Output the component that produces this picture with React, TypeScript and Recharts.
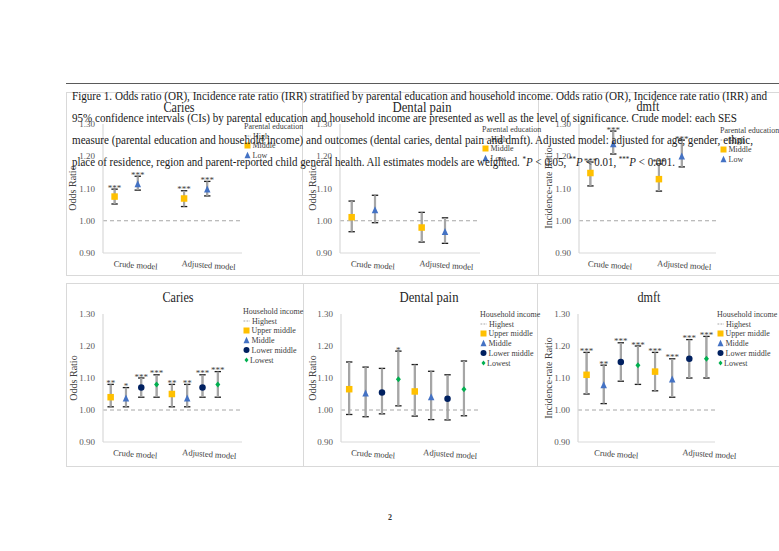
import React from "react";
import { ScatterChart, Scatter, XAxis, YAxis, ErrorBar, ReferenceLine, Legend } from "recharts";

const SERIF = "'Liberation Serif', 'Times New Roman', serif";

const models = ["Crude model", "Adjusted model"];
const educationGroups = ["Middle", "Low"];
const incomeGroups = ["Upper middle", "Middle", "Lower middle", "Lowest"];
const yTicks = [0.9, 1.0, 1.1, 1.2, 1.3];

// one row per group, [crude, adjusted]
const cariesEduEst = [[1.075, 1.069], [1.114, 1.098]];
const cariesEduLow = [[1.052, 1.044], [1.095, 1.077]];
const cariesEduHigh = [[1.098, 1.093], [1.138, 1.122]];
const cariesEduSig = [["***", "***"], ["***", "***"]];

const painEduEst = [[1.011, 0.979], [1.033, 0.966]];
const painEduLow = [[0.966, 0.934], [0.994, 0.93]];
const painEduHigh = [[1.061, 1.026], [1.079, 1.009]];
const painEduSig = [["", ""], ["", ""]];

const dmftEduEst = [[1.148, 1.129], [1.238, 1.2]];
const dmftEduLow = [[1.108, 1.092], [1.207, 1.167]];
const dmftEduHigh = [[1.182, 1.176], [1.278, 1.25]];
const dmftEduSig = [["***", "***"], ["***", "***"]];

const cariesIncEst = [[1.04, 1.05], [1.037, 1.037], [1.07, 1.07], [1.08, 1.08]];
const cariesIncLow = [[1.01, 1.01], [1.01, 1.01], [1.04, 1.04], [1.04, 1.04]];
const cariesIncHigh = [[1.08, 1.08], [1.07, 1.08], [1.1, 1.11], [1.11, 1.12]];
const cariesIncSig = [["**", "**"], ["*", "**"], ["***", "***"], ["***", "***"]];

const painIncEst = [[1.065, 1.058], [1.052, 1.041], [1.055, 1.035], [1.096, 1.065]];
const painIncLow = [[0.986, 0.981], [0.979, 0.97], [0.988, 0.969], [1.013, 0.982]];
const painIncHigh = [[1.15, 1.142], [1.134, 1.121], [1.13, 1.11], [1.184, 1.153]];
const painIncSig = [["", ""], ["", ""], ["", ""], ["*", ""]];

const dmftIncEst = [[1.11, 1.12], [1.078, 1.096], [1.15, 1.16], [1.14, 1.16]];
const dmftIncLow = [[1.05, 1.06], [1.02, 1.04], [1.09, 1.1], [1.08, 1.1]];
const dmftIncHigh = [[1.18, 1.18], [1.14, 1.16], [1.21, 1.22], [1.2, 1.23]];
const dmftIncSig = [["***", "***"], ["**", "***"], ["***", "***"], ["***", "***"]];

const markerKinds = ["square", "triangle", "circle", "diamond"];
const markerColors = ["#FFC000", "#4472C4", "#002060", "#00B050"];

const eduSlot = (m: number, g: number) => m * 6 + 1 + g * 2;
const incSlot = (m: number, g: number) => m * 4 + g + 0.5;

const panels = [
  { title: "Caries", yLabel: "Odds Ratio", groups: educationGroups, legendTitle: "Parental education", refName: "High",
    est: cariesEduEst, low: cariesEduLow, high: cariesEduHigh, sig: cariesEduSig, slot: eduSlot,
    l: 103, r: 242, t: 123.5, b: 252.5, xMax: 12, ticks: [2.8, 9.1],
    titleX: 179, titleY: 112, titleW: 31, yLabelX: 72, legX: 244, legY: 129 },
  { title: "Dental pain", yLabel: "Odds Ratio", groups: educationGroups, legendTitle: "Parental education", refName: "High",
    est: painEduEst, low: painEduLow, high: painEduHigh, sig: painEduSig, slot: eduSlot,
    l: 340, r: 480, t: 123.5, b: 252.5, xMax: 12, ticks: [2.8, 9.1],
    titleX: 422, titleY: 112, titleW: 59, yLabelX: 312, legX: 482, legY: 132 },
  { title: "dmft", yLabel: "Incidence-rate Ratio", groups: educationGroups, legendTitle: "Parental education", refName: "High",
    est: dmftEduEst, low: dmftEduLow, high: dmftEduHigh, sig: dmftEduSig, slot: eduSlot,
    l: 579, r: 716, t: 123.5, b: 252.5, xMax: 12, ticks: [2.7, 9.2],
    titleX: 648, titleY: 111, titleW: 23, yLabelX: 548, legX: 720, legY: 133 },
  { title: "Caries", yLabel: "Odds Ratio", groups: incomeGroups, legendTitle: "Household income", refName: "Highest",
    est: cariesIncEst, low: cariesIncLow, high: cariesIncHigh, sig: cariesIncSig, slot: incSlot,
    l: 103, r: 242, t: 314, b: 442, xMax: 9.08, ticks: [2.09, 6.93],
    titleX: 178, titleY: 302, titleW: 31, yLabelX: 73, legX: 243, legY: 314 },
  { title: "Dental pain", yLabel: "Odds Ratio", groups: incomeGroups, legendTitle: "Household income", refName: "Highest",
    est: painIncEst, low: painIncLow, high: painIncHigh, sig: painIncSig, slot: incSlot,
    l: 341, r: 480, t: 314, b: 442, xMax: 8.48, ticks: [1.95, 6.65],
    titleX: 429, titleY: 302, titleW: 59, yLabelX: 312, legX: 480, legY: 317 },
  { title: "dmft", yLabel: "Incidence-rate Ratio", groups: incomeGroups, legendTitle: "Household income", refName: "Highest",
    est: dmftIncEst, low: dmftIncLow, high: dmftIncHigh, sig: dmftIncSig, slot: incSlot,
    l: 578, r: 715, t: 314, b: 442, xMax: 8.0, ticks: [2.22, 7.66],
    titleX: 649, titleY: 302, titleW: 23, yLabelX: 548, legX: 717, legY: 317 },
];

function Marker({ kind, cx, cy, color, s = 6.5 }: any) {
  const h = s / 2;
  if (kind === "square") return <rect x={cx - h} y={cy - h} width={s} height={s} fill={color} />;
  if (kind === "triangle")
    return <polygon points={`${cx},${cy - h - 0.5} ${cx + h},${cy + h} ${cx - h},${cy + h}`} fill={color} />;
  if (kind === "circle") return <circle cx={cx} cy={cy} r={h} fill={color} />;
  return <polygon points={`${cx},${cy - h} ${cx + h - 0.5},${cy} ${cx},${cy + h} ${cx - h + 0.5},${cy}`} fill={color} />;
}

function LegendBox({ title, refName, groups }: any) {
  const first = 9.5;
  const step = 9.8;
  return (
    <svg width={70} height={first + step * (groups.length + 1) + 4} style={{ overflow: "visible", display: "block" }}>
      <text x={0} y={7} fontSize={8} fontFamily={SERIF} fill="#404040">{title}</text>
      <line x1={0.5} x2={7} y1={7 + first - 2.5} y2={7 + first - 2.5} stroke="#a6a6a6" strokeDasharray="1.8 1.2" />
      <text x={9} y={7 + first} fontSize={8} fontFamily={SERIF} fill="#404040">{refName}</text>
      {groups.map((g: string, i: number) => {
        const y = 7 + first + step * (i + 1);
        return (
          <g key={g}>
            <Marker kind={markerKinds[i]} cx={3.5} cy={y - 2.8} color={markerColors[i]} s={i === 3 ? 5 : 6} />
            <text x={i === 3 ? 7 : 8.5} y={y} fontSize={8} fontFamily={SERIF} fill="#404040">{g}</text>
          </g>
        );
      })}
    </svg>
  );
}

const ModelTick = (props: any) => {
  const { x, y, index } = props;
  const ty = y + 15;
  return (
    <text x={x} y={ty} textAnchor="middle" fontSize={8.5} fontFamily={SERIF} fill="#404040"
      transform={`rotate(4 ${x} ${ty})`}>
      {models[index]}
    </text>
  );
};

function Panel({ cfg }: any) {
  const padL = 40, padT = 14, padB = 24, padR = 40;
  const W = cfg.r - cfg.l;
  const H = cfg.b - cfg.t;
  const left = cfg.l - padL;
  const top = cfg.t - padT;

  const series = cfg.groups.map((g: string, gi: number) =>
    models.map((_, m) => ({
      x: cfg.slot(m, gi),
      y: cfg.est[gi][m],
      err: [cfg.est[gi][m] - cfg.low[gi][m], cfg.high[gi][m] - cfg.est[gi][m]],
    }))
  );
  const stars: any[] = [];
  cfg.groups.forEach((_: string, gi: number) =>
    models.forEach((__, m) => {
      if (cfg.sig[gi][m]) stars.push({ x: cfg.slot(m, gi), y: cfg.high[gi][m], sig: cfg.sig[gi][m] });
    })
  );

  return (
    <div style={{ position: "absolute", left, top }}>
      <ScatterChart width={padL + W + padR} height={padT + H + padB}
        margin={{ top: padT, right: padR, left: 0, bottom: 0 }}>
        <XAxis type="number" dataKey="x" domain={[0, cfg.xMax]} ticks={cfg.ticks} interval={0}
          allowDataOverflow height={padB} tickLine={false} tickSize={0} tickMargin={0}
          axisLine={{ stroke: "#d9d9d9", strokeWidth: 1.2 }} tick={<ModelTick />} />
        <YAxis type="number" dataKey="y" domain={[0.9, 1.3]} ticks={yTicks} interval={0}
          allowDataOverflow width={padL} tickLine={false}
          axisLine={{ stroke: "#d9d9d9", strokeWidth: 1.2 }}
          tickFormatter={(v: number) => v.toFixed(2)}
          tick={{ fontSize: 9, fill: "#595959", fontFamily: SERIF }} />
        <ReferenceLine y={1} stroke="#a6a6a6" strokeDasharray="4 3" strokeWidth={1} />
        {series.map((data: any[], gi: number) => (
          <Scatter key={gi} data={data} isAnimationActive={false}
            shape={(p: any) => <Marker kind={markerKinds[gi]} cx={p.cx} cy={p.cy} color={markerColors[gi]}
              s={gi === 3 ? 6 : 6.5} />}>
            <ErrorBar dataKey="err" direction="y" width={3.2} stroke="#1a1a1a" strokeWidth={1.3} />
            <ErrorBar dataKey="err" direction="y" width={0} stroke="#a6a6a6" strokeWidth={2.2} />
          </Scatter>
        ))}
        <Scatter data={stars} isAnimationActive={false}
          shape={(p: any) => (
            <text x={p.cx} y={p.cy + 1.5} textAnchor="middle" fontSize={9} fontFamily={SERIF} fill="#404040">
              {p.payload.sig}
            </text>
          )} />
        <Legend layout="vertical" align="center" verticalAlign="middle"
          wrapperStyle={{ left: cfg.legX - left, top: cfg.legY - 7 - top, width: 70, height: 70 }}
          content={() => <LegendBox title={cfg.legendTitle} refName={cfg.refName} groups={cfg.groups} />} />
      </ScatterChart>
    </div>
  );
}

const captionLines = [
  { y: 99.5, len: 695, text: "Figure 1. Odds ratio (OR), Incidence rate ratio (IRR) stratified by parental education and household income. Odds ratio (OR), Incidence rate ratio (IRR) and" },
  { y: 121.8, len: 665, text: "95% confidence intervals (CIs) by parental education and household income are presented as well as the level of significance. Crude model: each SES" },
  { y: 144.1, len: 681, text: "measure (parental education and household income) and outcomes (dental caries, dental pain and dmft). Adjusted model: adjusted for age, gender, ethnic," },
];

function App() {
  return (
    <div style={{ position: "absolute", left: 0, top: 0, width: 779, height: 551, background: "#fff", overflow: "hidden" }}>
      <svg width={779} height={551} style={{ position: "absolute", left: 0, top: 0 }}>
        {[[66, 92, 236, 183], [302, 92, 236, 183], [538, 92, 245, 183],
          [66, 283, 237, 183], [303, 283, 234, 183], [537, 283, 246, 183]].map(([x, y, w, h], i) => (
          <rect key={i} x={x + 0.5} y={y + 0.5} width={w} height={h} fill="none" stroke="#d9d9d9" strokeWidth={1} />
        ))}
      </svg>
      {panels.map((p, i) => <Panel key={i} cfg={p} />)}
      <svg width={779} height={551} style={{ position: "absolute", left: 0, top: 0, pointerEvents: "none" }}>
        <line x1={66} x2={779} y1={83.5} y2={83.5} stroke="#5a5a5a" strokeWidth={1.2} />
        {panels.map((p, i) => (
          <g key={i}>
            <text x={p.titleX} y={p.titleY} textAnchor="middle" fontSize={14} fontFamily={SERIF} fill="#262626"
              textLength={p.titleW} lengthAdjust="spacingAndGlyphs">{p.title}</text>
            <text x={p.yLabelX} y={(p.t + p.b) / 2} textAnchor="middle" dominantBaseline="central" fontSize={10}
              fontFamily={SERIF} fill="#404040" transform={`rotate(-90 ${p.yLabelX} ${(p.t + p.b) / 2})`}>
              {p.yLabel}
            </text>
          </g>
        ))}
        {captionLines.map((c, i) => (
          <text key={i} x={72} y={c.y} fontSize={12.5} fontFamily={SERIF} fill="#1a1a1a"
            textLength={c.len} lengthAdjust="spacingAndGlyphs">{c.text}</text>
        ))}
        <text x={72} y={166.4} fontSize={12.5} fontFamily={SERIF} fill="#1a1a1a" textLength={603} lengthAdjust="spacingAndGlyphs">
          place of residence, region and parent-reported child general health. All estimates models are weighted.{" "}
          <tspan fontSize={8} dy={-4.5}>*</tspan><tspan fontStyle="italic" dy={4.5}>P</tspan> {"< 0.05, "}
          <tspan fontSize={8} dy={-4.5}>**</tspan><tspan fontStyle="italic" dy={4.5}>P</tspan> {"< 0.01, "}
          <tspan fontSize={8} dy={-4.5}>***</tspan><tspan fontStyle="italic" dy={4.5}>P</tspan> {"< 0.001."}
        </text>
        <text x={390} y={520} textAnchor="middle" fontSize={8} fontWeight="bold" fontFamily={SERIF} fill="#333">2</text>
      </svg>
    </div>
  );
}

export default App;
